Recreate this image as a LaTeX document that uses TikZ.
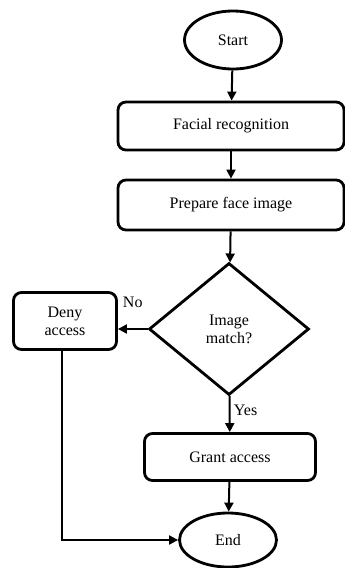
\documentclass[tikz,border=0pt]{standalone}
\usepackage{fontspec}
\setmainfont{Liberation Serif}
\usetikzlibrary{shapes.geometric,arrows.meta}

\begin{document}
\begin{tikzpicture}[x=1pt, y=-1pt, auto, line width=2.8pt,
	term node/.style={ellipse,draw,minimum width=97pt,minimum height=58pt,font=\fontsize{16}{18}\selectfont},
	proc node/.style={rectangle,rounded corners=8pt,draw,align=center,font=\fontsize{16}{18}\selectfont},
	dec node/.style={diamond,draw,inner sep=0pt,minimum width=160pt,minimum height=132pt,align=center,font=\fontsize{16}{18}\selectfont},
	flow/.style={line width=2pt,-{Triangle[length=9pt,width=9pt]}}]
	
	\useasboundingbox (0,0) rectangle (345,568);
	
	\node[term node] (start) at (233,40) {Start};
	\node[proc node, minimum width=226pt, minimum height=48pt] (rec) at (231,126) {Facial recognition};
	\node[proc node, minimum width=226pt, minimum height=50pt] (prep) at (231,205) {Prepare face image};
	\node[dec node] (match) at (229,329) {Image\\match?};
	\node[proc node, minimum width=103pt, minimum height=57pt] (deny) at (65,321) {Deny\\access};
	\node[proc node, minimum width=171pt, minimum height=47pt] (grant) at (230,457) {Grant access};
	\node[term node, minimum height=54pt] (end) at (228,540) {End};
	
	\path[flow, every node/.style={font=\fontsize{16}{18}\selectfont}]
	(start) edge (rec)
	(rec) edge (prep)
	(prep) edge (match)
	(match.west) edge node[midway, above=17pt] {No} (match.west -| deny.east)
	(match) edge node[pos=0.4] {Yes} (grant)
	(grant) edge (end);
	\draw[flow] ([xshift=-3pt]deny.south) |- (end.west);
\end{tikzpicture}
\end{document}
